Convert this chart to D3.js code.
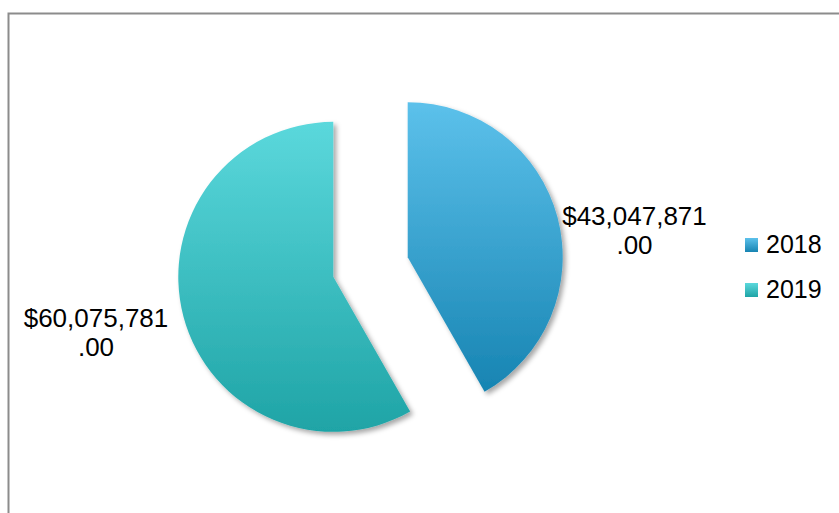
<!DOCTYPE html>
<html>
<head>
<meta charset="utf-8">
<script src="https://cdn.jsdelivr.net/npm/d3@7"></script>
<style>
  body { margin: 0; background: #fff; }
  svg { display: block; font-family: "Liberation Sans", Arial, sans-serif; }
</style>
</head>
<body>
<div id="chart"></div>
<script>
// Chart data
const years = ["2018", "2019"];
const amounts = [43047871, 60075781];
const labels = ["$43,047,871", "$60,075,781"];
const topColors = ["#5cc1eb", "#5bd8dc"];
const bottomColors = ["#1784b2", "#1fa4a6"];

const w = 839;
const h = 513;
const radius = 155;
const explode = 38.5;
const cx = 370.5;
const cy = 267;

const svg = d3.select("#chart")
  .append("svg")
  .attr("width", w)
  .attr("height", h)
  .attr("viewBox", [0, 0, w, h]);

const defs = svg.append("defs");

// soft shadow under the slices
defs.append("filter")
  .attr("id", "shadow")
  .attr("x", "-20%").attr("y", "-20%")
  .attr("width", "140%").attr("height", "140%")
  .append("feDropShadow")
  .attr("dx", 3).attr("dy", 3)
  .attr("stdDeviation", 2.5)
  .attr("flood-color", "#000")
  .attr("flood-opacity", 0.35);

// frame
svg.append("rect")
  .attr("x", 8.5)
  .attr("y", 13.5)
  .attr("width", w + 20)
  .attr("height", h + 20)
  .attr("fill", "none")
  .attr("stroke", "#8c8c8c")
  .attr("stroke-width", 2);

const pie = d3.pie().sort(null).value((d) => d)(amounts);
const arc = d3.arc().innerRadius(0).outerRadius(radius);

const offset = (d) => {
  const a = (d.startAngle + d.endAngle) / 2;
  return [Math.sin(a) * explode, -Math.cos(a) * explode];
};

// gradients per slice, vertical over the slice's own extent (in the slice's local coords)
pie.forEach((d, i) => {
  const ys = [0];
  for (let t = d.startAngle; t <= d.endAngle; t += 0.01) ys.push(-Math.cos(t) * radius);
  ys.push(-Math.cos(d.endAngle) * radius);
  const g = defs.append("linearGradient")
    .attr("id", "grad" + i)
    .attr("gradientUnits", "userSpaceOnUse")
    .attr("x1", 0).attr("x2", 0)
    .attr("y1", d3.min(ys))
    .attr("y2", d3.max(ys));
  g.append("stop").attr("offset", 0).attr("stop-color", topColors[i]);
  g.append("stop").attr("offset", 1).attr("stop-color", bottomColors[i]);

  const lg = defs.append("linearGradient")
    .attr("id", "lgrad" + i)
    .attr("x1", 0).attr("x2", 0).attr("y1", 0).attr("y2", 1);
  lg.append("stop").attr("offset", 0).attr("stop-color", topColors[i]);
  lg.append("stop").attr("offset", 1).attr("stop-color", bottomColors[i]);
});

svg.append("g")
  .attr("transform", `translate(${cx},${cy})`)
  .selectAll("path")
  .data(pie)
  .join("path")
  .attr("transform", (d) => `translate(${offset(d)})`)
  .attr("d", arc)
  .attr("fill", (d, i) => `url(#grad${i})`)
  .attr("filter", "url(#shadow)");

// data labels
const labelPos = [[634.5, 225], [96, 327]];
const lab = svg.append("g")
  .attr("font-size", 26)
  .attr("fill", "#000")
  .attr("text-anchor", "middle");
labels.forEach((t, i) => {
  const txt = lab.append("text")
    .attr("x", labelPos[i][0])
    .attr("y", labelPos[i][1]);
  txt.append("tspan").attr("x", labelPos[i][0]).text(t);
  txt.append("tspan").attr("x", labelPos[i][0]).attr("dy", 29).text(".00");
});

// legend
const legend = svg.append("g")
  .attr("transform", "translate(745,238)")
  .selectAll("g")
  .data(years)
  .join("g")
  .attr("transform", (d, i) => `translate(0,${i * 45})`);

legend.append("rect")
  .attr("width", 13)
  .attr("height", 14)
  .attr("fill", (d, i) => `url(#lgrad${i})`);

legend.append("text")
  .attr("x", 21)
  .attr("y", 15)
  .attr("font-size", 25)
  .attr("fill", "#000")
  .text((d) => d);
</script>
</body>
</html>
